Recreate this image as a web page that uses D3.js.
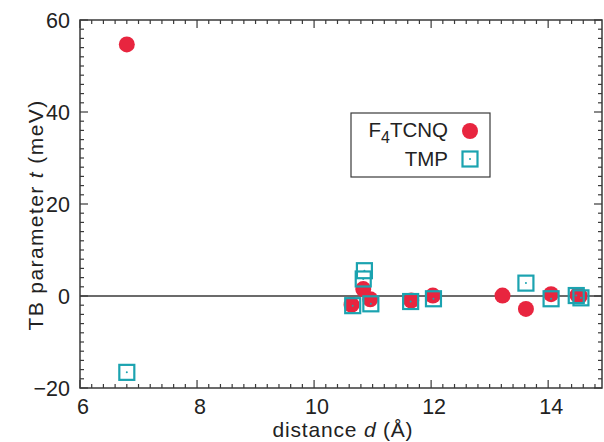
<!DOCTYPE html>
<html><head><meta charset="utf-8">
<script src="https://cdn.jsdelivr.net/npm/d3@7"></script>
<style>body{margin:0;background:#fff}svg{display:block;font-family:"Liberation Sans",Arial,sans-serif}</style>
</head><body><svg id="c" width="604" height="442"></svg>
<script>
const xTicks = [6, 8, 10, 12, 14];
const yTicks = [-20, 0, 20, 40, 60];
const f4tcnqD = [6.80, 10.64, 10.84, 10.96, 11.66, 12.03, 13.22, 13.62, 14.05, 14.50, 14.54];
const f4tcnqT = [54.7, -1.9, 1.5, -0.7, -1.0, 0.1, 0.1, -2.8, 0.4, 0.2, 0.0];
const tmpD = [6.80, 10.86, 10.84, 10.66, 10.97, 11.65, 12.04, 13.62, 14.05, 14.48, 14.56];
const tmpT = [-16.6, 5.5, 3.7, -2.1, -1.7, -1.2, -0.6, 2.8, -0.6, 0.1, -0.4];
const seriesNames = ["F\u2084TCNQ", "TMP"];

const svg = d3.select("#c");
const L = 80, R = 602, T = 20, B = 388;
const x = d3.scaleLinear().domain([6, 14.92]).range([L, R]);
const y = d3.scaleLinear().domain([-20, 60]).range([B, T]);
const red = "#e8253f", teal = "#1ba3b0", axc = "#3a3a3a";

// frame
svg.append("rect").attr("x", L).attr("y", T).attr("width", R - L).attr("height", B - T)
  .attr("fill", "none").attr("stroke", axc).attr("stroke-width", 1.5);

// ticks
const xMinor = d3.range(6, 14.921, 0.2);
const yMinor = d3.range(-20, 60.01, 2);
const g = svg.append("g").attr("stroke", axc).attr("stroke-width", 1.2);
xMinor.forEach(v => {
  const isMaj = Math.abs(v - Math.round(v / 2) * 2) < 1e-6;
  const len = isMaj ? 8 : 4;
  g.append("line").attr("x1", x(v)).attr("x2", x(v)).attr("y1", B).attr("y2", B - len);
  g.append("line").attr("x1", x(v)).attr("x2", x(v)).attr("y1", T).attr("y2", T + len);
});
yMinor.forEach(v => {
  const isMaj = Math.abs(v - Math.round(v / 20) * 20) < 1e-6;
  const len = isMaj ? 8 : 4;
  g.append("line").attr("x1", L).attr("x2", L + len).attr("y1", y(v)).attr("y2", y(v));
  g.append("line").attr("x1", R).attr("x2", R - len).attr("y1", y(v)).attr("y2", y(v));
});

// tick labels
svg.append("g").selectAll("text").data(xTicks).join("text")
  .attr("x", d => x(d) + 3).attr("y", 414).attr("text-anchor", "middle")
  .attr("font-size", 21.5).attr("fill", "#222").text(d => d);
svg.append("g").selectAll("text").data(yTicks).join("text")
  .attr("x", 70).attr("y", d => y(d) + 7.5).attr("text-anchor", "end")
  .attr("font-size", 21.5).attr("fill", "#222").text(d => d < 0 ? "\u2212" + Math.abs(d) : d);

// axis titles
const xt = svg.append("text").attr("x", 343).attr("y", 437).attr("text-anchor", "middle")
  .attr("font-size", 21).attr("letter-spacing", 0.8).attr("fill", "#222");
xt.append("tspan").text("distance ");
xt.append("tspan").attr("font-style", "italic").text("d");
xt.append("tspan").text(" (\u00C5)");
const yt = svg.append("text").attr("transform", "translate(43,215) rotate(-90)")
  .attr("text-anchor", "middle").attr("font-size", 21).attr("letter-spacing", 1.4).attr("fill", "#222");
yt.append("tspan").text("TB parameter ");
yt.append("tspan").attr("font-style", "italic").text("t");
yt.append("tspan").text(" (meV)");

// zero line
svg.append("line").attr("x1", L).attr("x2", R).attr("y1", y(0)).attr("y2", y(0))
  .attr("stroke", axc).attr("stroke-width", 1.5);

// data
const f4 = f4tcnqD.map((d, i) => ({d, t: f4tcnqT[i]}));
const tm = tmpD.map((d, i) => ({d, t: tmpT[i]}));
svg.append("g").selectAll("circle").data(f4).join("circle")
  .attr("cx", p => x(p.d)).attr("cy", p => y(p.t)).attr("r", 8).attr("fill", red);
const sq = svg.append("g").selectAll("g").data(tm).join("g")
  .attr("transform", p => `translate(${x(p.d)},${y(p.t)})`);
sq.append("rect").attr("x", -7.5).attr("y", -7.5).attr("width", 15).attr("height", 15)
  .attr("fill", "none").attr("stroke", teal).attr("stroke-width", 2.2);
sq.append("circle").attr("r", 1).attr("fill", teal);

// legend
svg.append("rect").attr("x", 351).attr("y", 113).attr("width", 139).attr("height", 64)
  .attr("fill", "#fff").attr("stroke", axc).attr("stroke-width", 1.2);
const l1 = svg.append("text").attr("x", 448).attr("y", 137).attr("text-anchor", "end")
  .attr("font-size", 20.5).attr("fill", "#222");
l1.append("tspan").text("F");
l1.append("tspan").attr("font-size", 16).attr("dy", 6).text("4");
l1.append("tspan").attr("dy", -6).text("TCNQ");
svg.append("text").attr("x", 448).attr("y", 166).attr("text-anchor", "end")
  .attr("font-size", 20.5).attr("fill", "#222").text(seriesNames[1]);
svg.append("circle").attr("cx", 470).attr("cy", 131).attr("r", 8).attr("fill", red);
svg.append("rect").attr("x", 462.5).attr("y", 151.5).attr("width", 15).attr("height", 15)
  .attr("fill", "none").attr("stroke", teal).attr("stroke-width", 2.2);
svg.append("circle").attr("cx", 470).attr("cy", 159).attr("r", 1).attr("fill", teal);
</script></body></html>
